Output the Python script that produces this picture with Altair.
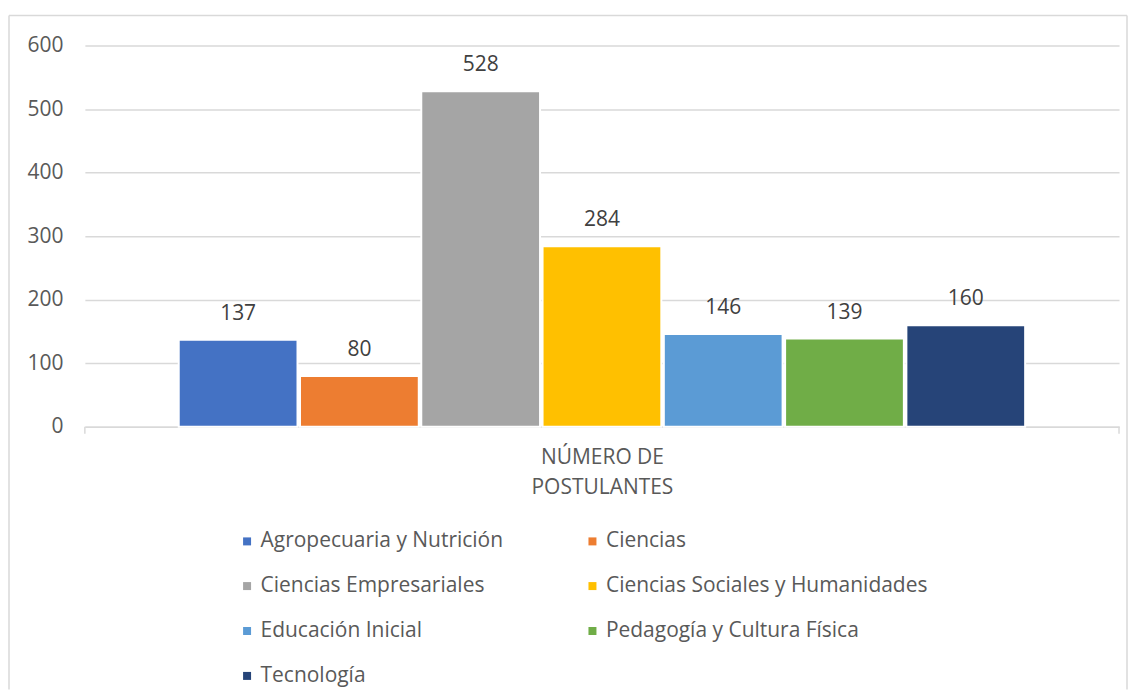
import altair as alt
import pandas as pd

facultades = [
    "Agropecuaria y Nutrición",
    "Ciencias",
    "Ciencias Empresariales",
    "Ciencias Sociales y Humanidades",
    "Educación Inicial",
    "Pedagogía y Cultura Física",
    "Tecnología",
]
postulantes = [137, 80, 528, 284, 146, 139, 160]
colores = ["#4472C4", "#ED7D31", "#A5A5A5", "#FFC000", "#5B9BD5", "#70AD47", "#264478"]
y_ticks = [0, 100, 200, 300, 400, 500, 600]
x_title = ["NÚMERO DE", "POSTULANTES"]

FONT = "Open Sans"
df = pd.DataFrame({"Facultad": facultades, "Postulantes": postulantes})

x_enc = alt.X(
    "Facultad:N",
    sort=facultades,
    scale=alt.Scale(paddingInner=0.0206, paddingOuter=0.774),
    axis=alt.Axis(
        labels=False, ticks=False, domain=True, domainColor="#d9d9d9", domainWidth=1.5,
        title=x_title, titleFont=FONT, titleFontSize=21, titleFontWeight="normal",
        titleColor="#595959", titlePadding=20, titleLineHeight=30,
    ),
)
y_enc = alt.Y(
    "Postulantes:Q",
    scale=alt.Scale(domain=[0, 600], nice=False),
    axis=alt.Axis(
        values=y_ticks, title=None, domain=False, ticks=False,
        labelFont=FONT, labelFontSize=21, labelColor="#595959", labelPadding=22,
        gridColor="#d9d9d9", gridWidth=1.5,
    ),
)

bars = alt.Chart(df).mark_bar(stroke="white", strokeWidth=2).encode(
    x=x_enc,
    y=y_enc,
    color=alt.Color(
        "Facultad:N",
        sort=facultades,
        scale=alt.Scale(domain=facultades, range=colores),
        legend=alt.Legend(
            title=None, orient="none", legendX=152, legendY=486, columns=2,
            direction="horizontal",
            columnPadding=78, rowPadding=23, symbolType="square", symbolSize=64,
            symbolStrokeWidth=0, labelFont=FONT, labelFontSize=21, labelColor="#595959",
            labelOffset=3, labelLimit=600,
        ),
    ),
)

labels = alt.Chart(df).mark_text(
    font=FONT, fontSize=21, color="#404040", baseline="alphabetic", dy=-20
).encode(x=alt.X("Facultad:N", sort=facultades), y="Postulantes:Q", text="Postulantes:Q")

frame = pd.DataFrame({"a": [0]})
edge = dict(stroke="#d9d9d9", strokeWidth=1.5)
border_top = alt.Chart(frame).mark_rule(**edge).encode(
    x=alt.value(-76), x2=alt.value(1044), y=alt.value(-30)
)
border_left = alt.Chart(frame).mark_rule(**edge).encode(
    x=alt.value(-76), y=alt.value(-30), y2=alt.value(645)
)
border_right = alt.Chart(frame).mark_rule(**edge).encode(
    x=alt.value(1044), y=alt.value(-30), y2=alt.value(645)
)
tick_left = alt.Chart(frame).mark_rule(**edge).encode(
    x=alt.value(0), y=alt.value(382), y2=alt.value(389)
)
tick_right = alt.Chart(frame).mark_rule(**edge).encode(
    x=alt.value(1036), y=alt.value(382), y2=alt.value(389)
)

chart = alt.layer(
    border_top, border_left, border_right, tick_left, tick_right, bars, labels
).properties(
    width=1036, height=382,
    padding={"left": 0, "top": 6, "right": 0, "bottom": 0},
).configure_view(stroke=None)

chart.save("out.html", embed_options={"renderer": "svg", "actions": False})
